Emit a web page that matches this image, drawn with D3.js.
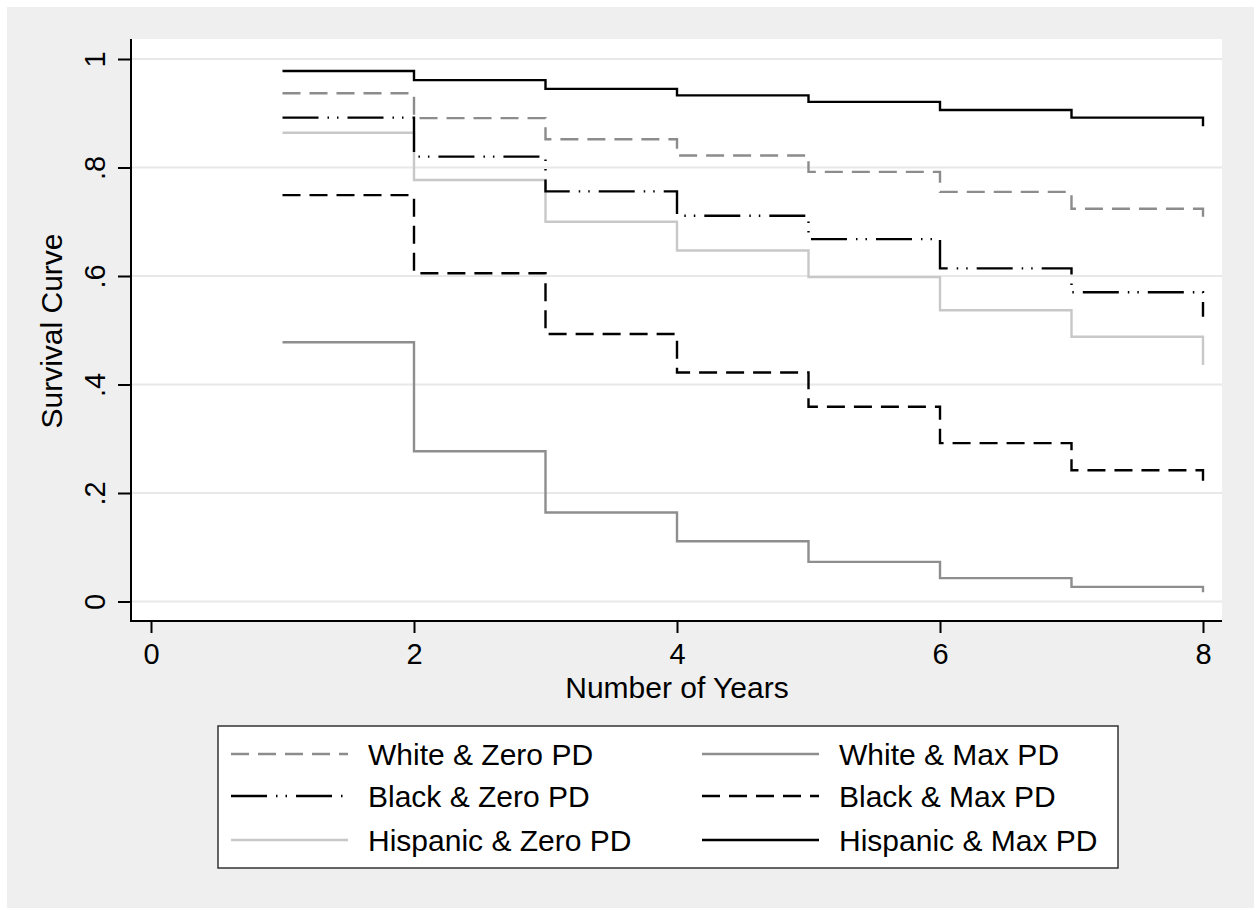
<!doctype html>
<html>
<head>
<meta charset="utf-8">
<title>Survival Curve</title>
<script src="https://cdn.jsdelivr.net/npm/d3@7"></script>
<style>
  body { margin: 0; background: #fff; }
  svg text { font-family: "Liberation Sans", Arial, Helvetica, sans-serif; fill: #000; }
</style>
</head>
<body>
<svg id="chart" width="1254" height="908"></svg>
<script>
// data
var years = [1, 2, 3, 4, 5, 6, 7, 8];
var whiteZero = [0.937, 0.891, 0.852, 0.822, 0.792, 0.755, 0.724, 0.697];
var blackZero = [0.892, 0.820, 0.756, 0.711, 0.668, 0.614, 0.570, 0.525];
var hispZero  = [0.864, 0.777, 0.700, 0.647, 0.598, 0.537, 0.488, 0.436];
var whiteMax  = [0.478, 0.277, 0.164, 0.111, 0.073, 0.043, 0.027, 0.017];
var blackMax  = [0.749, 0.605, 0.493, 0.422, 0.359, 0.292, 0.242, 0.209];
var hispMax   = [0.978, 0.961, 0.945, 0.933, 0.921, 0.906, 0.892, 0.876];

var xTicks = [0, 2, 4, 6, 8];
var yTicks = [0, 0.2, 0.4, 0.6, 0.8, 1];
var yTickLabels = ["0", ".2", ".4", ".6", ".8", "1"];

var seriesNames = ["White & Zero PD", "White & Max PD", "Black & Zero PD",
                   "Black & Max PD", "Hispanic & Zero PD", "Hispanic & Max PD"];
var seriesValues = [whiteZero, whiteMax, blackZero, blackMax, hispZero, hispMax];

// line styles, same order as seriesNames
var styles = [
  { color: "#8c8c8c", dash: "18,9" },
  { color: "#8e8e8e", dash: null },
  { color: "#000", dash: "36,9,1.5,8,1.5,9" },
  { color: "#000", dash: "18,9" },
  { color: "#c8c8c8", dash: null },
  { color: "#000", dash: null }
];

var svg = d3.select("#chart");

// outer frame
svg.append("rect").attr("x", 7).attr("y", 7).attr("width", 1247).attr("height", 901).attr("fill", "#efefef");

var plot = { left: 131, right: 1222, top: 39, bottom: 621 };
svg.append("rect")
  .attr("x", plot.left).attr("y", plot.top)
  .attr("width", plot.right - plot.left).attr("height", plot.bottom - plot.top)
  .attr("fill", "#fff");

var x = d3.scaleLinear().domain([0, 8]).range([151, 1203]);
var y = d3.scaleLinear().domain([0, 1]).range([601.5, 59]);

// grid
svg.append("g").selectAll("line")
  .data(yTicks)
  .enter().append("line")
    .attr("x1", plot.left).attr("x2", plot.right)
    .attr("y1", function(d) { return y(d); })
    .attr("y2", function(d) { return y(d); })
    .attr("stroke", "#e8e8e8").attr("stroke-width", 2);

// step lines
var line = d3.line()
  .x(function(d) { return x(d[0]); })
  .y(function(d) { return y(d[1]); })
  .curve(d3.curveStepAfter);

var drawOrder = [4, 1, 3, 2, 0, 5];
drawOrder.forEach(function(i) {
  var pts = years.map(function(t, k) { return [t, seriesValues[i][k]]; });
  svg.append("path")
    .attr("d", line(pts))
    .attr("fill", "none")
    .attr("stroke", styles[i].color)
    .attr("stroke-width", 2.4)
    .attr("stroke-dasharray", styles[i].dash);
});

// axes
var yAxis = d3.axisLeft(y).tickValues(yTicks).tickSize(13).tickPadding(12)
  .tickFormat(function(d, i) { return yTickLabels[i]; });
var gy = svg.append("g").attr("transform", "translate(" + plot.left + ",0)").call(yAxis);
gy.select(".domain").remove();
gy.selectAll(".tick line").attr("stroke", "#000").attr("stroke-width", 2);
gy.selectAll(".tick text")
  .attr("font-size", 29)
  .attr("text-anchor", "middle")
  .attr("x", 0).attr("dy", 0)
  .attr("transform", "translate(-26,0) rotate(-90)");

var xAxis = d3.axisBottom(x).tickValues(xTicks).tickSize(12).tickPadding(10).tickFormat(d3.format("d"));
var gx = svg.append("g").attr("transform", "translate(0," + plot.bottom + ")").call(xAxis);
gx.select(".domain").remove();
gx.selectAll(".tick line").attr("stroke", "#000").attr("stroke-width", 2);
gx.selectAll(".tick text").attr("font-size", 29).attr("dy", "0.71em");

svg.append("line").attr("x1", plot.left).attr("x2", plot.left)
  .attr("y1", plot.top).attr("y2", plot.bottom + 1)
  .attr("stroke", "#000").attr("stroke-width", 2);
svg.append("line").attr("x1", plot.left - 1).attr("x2", plot.right)
  .attr("y1", plot.bottom).attr("y2", plot.bottom)
  .attr("stroke", "#000").attr("stroke-width", 2);

// axis titles
svg.append("text").attr("x", 677).attr("y", 698)
  .attr("text-anchor", "middle").attr("font-size", 30).text("Number of Years");
svg.append("text").attr("transform", "translate(62,331) rotate(-90)")
  .attr("text-anchor", "middle").attr("font-size", 30).text("Survival Curve");

// legend
svg.append("rect").attr("x", 218).attr("y", 726).attr("width", 900).attr("height", 142)
  .attr("fill", "#fff").attr("stroke", "#333").attr("stroke-width", 1.5);

var rowY = [754, 796, 840];
var colX = [231, 702];
seriesNames.forEach(function(name, i) {
  var col = i % 2, row = Math.floor(i / 2);
  var g = svg.append("g").attr("transform", "translate(" + colX[col] + "," + rowY[row] + ")");
  g.append("line").attr("x1", 0).attr("x2", 117).attr("y1", 0).attr("y2", 0)
    .attr("stroke", styles[i].color).attr("stroke-width", 2.4)
    .attr("stroke-dasharray", styles[i].dash);
  g.append("text").attr("x", 137).attr("y", 10.5).attr("font-size", 30).text(name);
});
</script>
</body>
</html>
